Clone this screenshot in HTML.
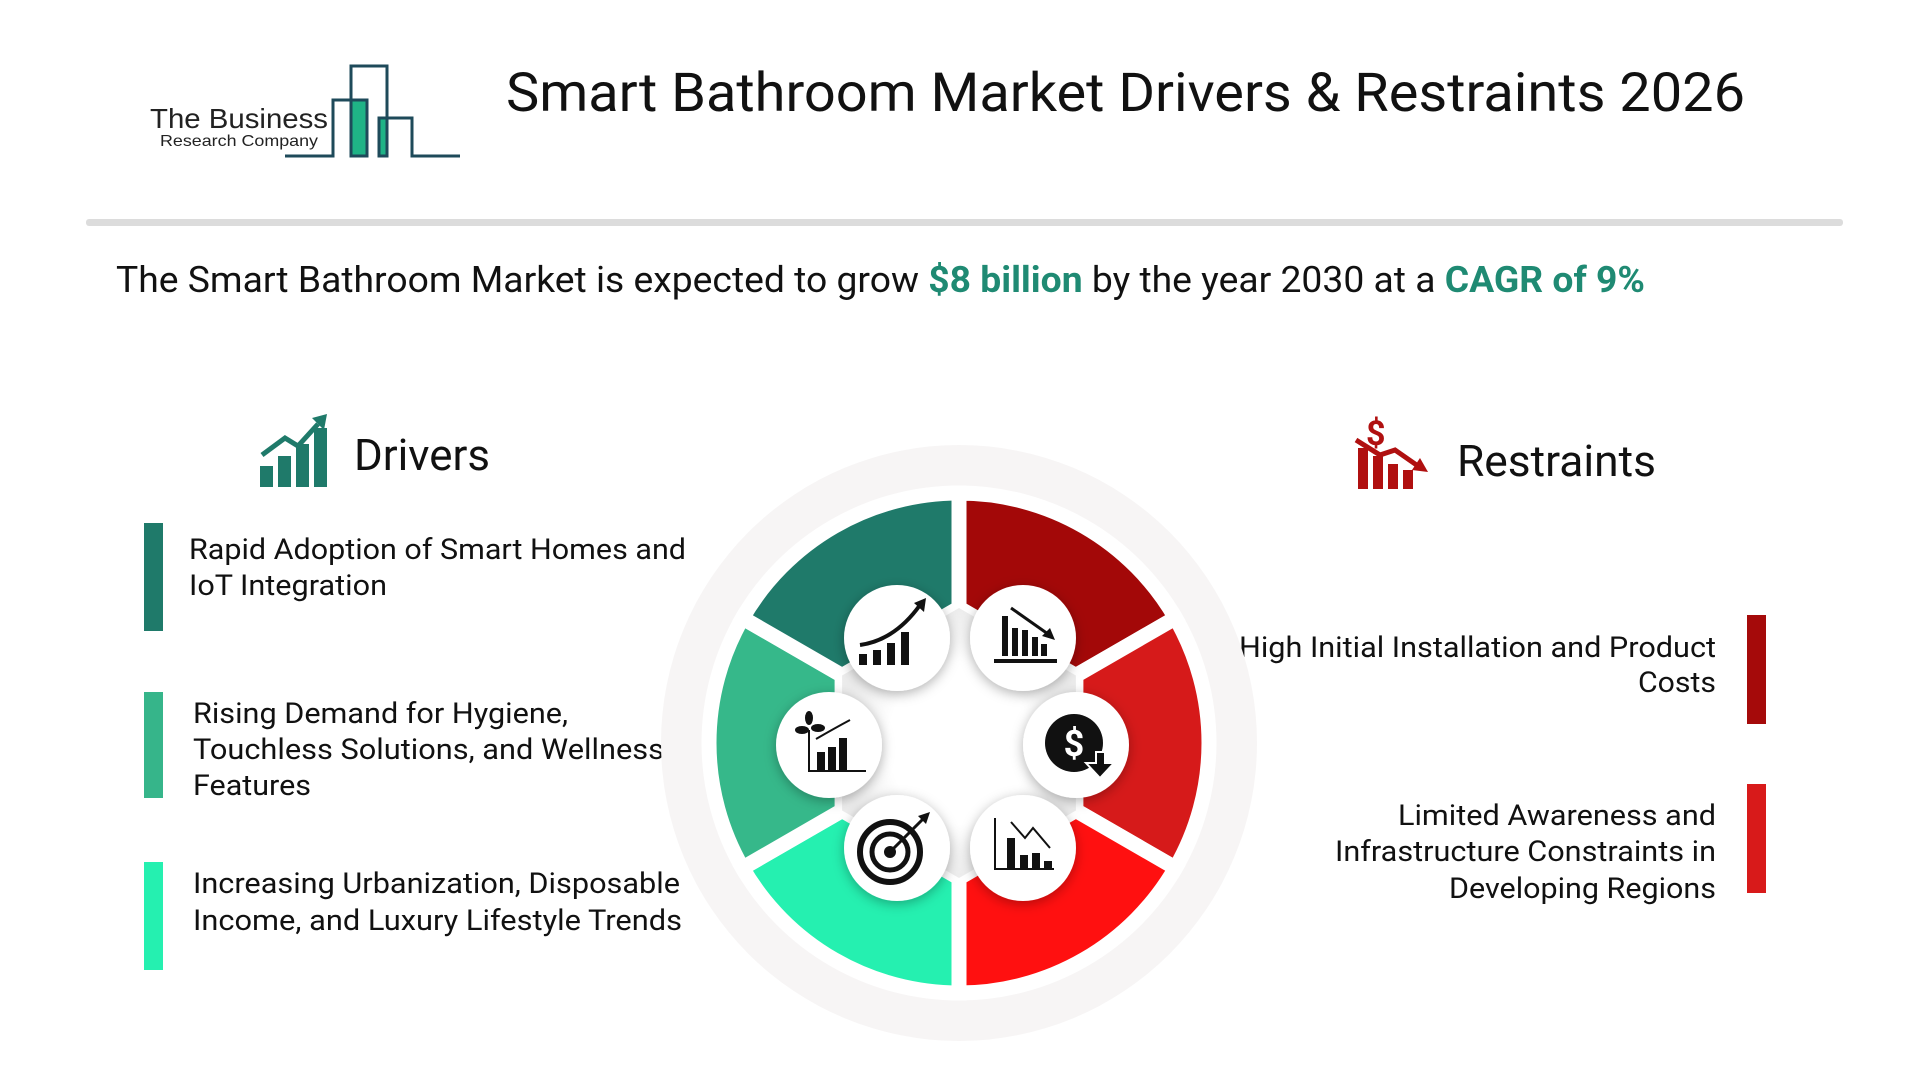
<!DOCTYPE html>
<html><head><meta charset="utf-8"><style>
html,body{margin:0;padding:0;background:#fff;}
svg{display:block;font-family:"Roboto","Liberation Sans",sans-serif;}
</style></head><body>
<svg width="1920" height="1080" viewBox="0 0 1920 1080" xmlns="http://www.w3.org/2000/svg">
<defs>
<filter id="sh" x="-30%" y="-30%" width="160%" height="160%"><feDropShadow dx="0" dy="3" stdDeviation="6" flood-color="#000" flood-opacity="0.3"/></filter>
<radialGradient id="cg"><stop offset="0.6" stop-color="#fff"/><stop offset="1" stop-color="#ececec"/></radialGradient>
</defs>
<!-- logo -->
<text x="150" y="128" font-size="28" fill="#222" textLength="178" lengthAdjust="spacingAndGlyphs" font-family="Liberation Sans">The Business</text>
<text x="160" y="146" font-size="16" fill="#222" textLength="158" lengthAdjust="spacingAndGlyphs" font-family="Liberation Sans">Research Company</text>
<rect x="351" y="100" width="16" height="56" fill="#1fb386" stroke="#1e4a5a" stroke-width="3"/>
<rect x="379" y="118" width="8" height="38" fill="#1fb386" stroke="#1e4a5a" stroke-width="3"/>
<polyline points="285,156 333,156 333,100 351,100 351,66 387,66 387,156 379,156 379,118 412,118 412,156 460,156" fill="none" stroke="#1e4a5a" stroke-width="3"/>
<!-- title -->
<text x="506" y="111" font-size="54" fill="#111" textLength="1239" lengthAdjust="spacingAndGlyphs">Smart Bathroom Market Drivers &amp; Restraints 2026</text>
<rect x="86" y="219" width="1757" height="7" rx="3" fill="#dcdcdc"/>
<text x="116" y="292" font-size="36" fill="#111" textLength="1529" lengthAdjust="spacingAndGlyphs">The Smart Bathroom Market is expected to grow <tspan fill="#1f8a73" font-weight="bold">$8 billion</tspan> by the year 2030 at a <tspan fill="#1f8a73" font-weight="bold">CAGR of 9%</tspan></text>
<!-- drivers heading -->
<g fill="#1f7a6a">
<rect x="260" y="466" width="13" height="21"/><rect x="278" y="456" width="13" height="31"/><rect x="296" y="444" width="13" height="43"/><rect x="314" y="428" width="13" height="59"/>
<polyline points="262,455 285,438 298,446 318,424" fill="none" stroke="#1f7a6a" stroke-width="5"/>
<polygon points="312,418 327,414 324,430"/>
</g>
<text x="354" y="470" font-size="44" fill="#111" textLength="136" lengthAdjust="spacingAndGlyphs">Drivers</text>
<!-- restraints heading -->
<g fill="#b01010">
<text x="1366" y="445" font-size="34" font-weight="bold" fill="#b01010">$</text>
<rect x="1358" y="448" width="10" height="41"/><rect x="1373" y="456" width="10" height="33"/><rect x="1388" y="464" width="10" height="25"/><rect x="1403" y="470" width="10" height="19"/>
<polyline points="1356,440 1380,455 1395,450 1418,466" fill="none" stroke="#b01010" stroke-width="5"/>
<polygon points="1412,470 1428,472 1420,458"/>
</g>
<text x="1457" y="476" font-size="44" fill="#111" textLength="199" lengthAdjust="spacingAndGlyphs">Restraints</text>
<!-- left items -->
<rect x="144" y="523" width="19" height="108" fill="#1f7a6a"/>
<rect x="144" y="692" width="19" height="106" fill="#36b58a"/>
<rect x="144" y="862" width="19" height="108" fill="#25f0b0"/>
<g font-size="29" fill="#111">
<text x="189" y="559" textLength="497" lengthAdjust="spacingAndGlyphs">Rapid Adoption of Smart Homes and</text>
<text x="189" y="595" textLength="198" lengthAdjust="spacingAndGlyphs">IoT Integration</text>
<text x="193" y="723" textLength="375" lengthAdjust="spacingAndGlyphs">Rising Demand for Hygiene,</text>
<text x="193" y="759" textLength="471" lengthAdjust="spacingAndGlyphs">Touchless Solutions, and Wellness</text>
<text x="193" y="795" textLength="118" lengthAdjust="spacingAndGlyphs">Features</text>
<text x="193" y="893" textLength="487" lengthAdjust="spacingAndGlyphs">Increasing Urbanization, Disposable</text>
<text x="193" y="930" textLength="489" lengthAdjust="spacingAndGlyphs">Income, and Luxury Lifestyle Trends</text>
<text x="1239" y="657" textLength="477" lengthAdjust="spacingAndGlyphs">High Initial Installation and Product</text>
<text x="1638" y="692" textLength="78" lengthAdjust="spacingAndGlyphs">Costs</text>
<text x="1398" y="825" textLength="318" lengthAdjust="spacingAndGlyphs">Limited Awareness and</text>
<text x="1335" y="861" textLength="381" lengthAdjust="spacingAndGlyphs">Infrastructure Constraints in</text>
<text x="1449" y="898" textLength="267" lengthAdjust="spacingAndGlyphs">Developing Regions</text>
</g>
<rect x="1747" y="615" width="19" height="109" fill="#a50a0a"/>
<rect x="1747" y="784" width="19" height="109" fill="#d81a1a"/>
<!-- circle -->
<circle cx="959" cy="743" r="298" fill="#f7f5f5"/>
<g stroke="#fff" stroke-width="15" stroke-linejoin="miter">
<path d="M959,493 A250,250 0 0 1 1175.5,618 L1075.9,675.5 L959,608 Z" fill="#a30808"/>
<path d="M1175.5,618 A250,250 0 0 1 1175.5,868 L1075.9,810.5 L1075.9,675.5 Z" fill="#d61a1a"/>
<path d="M1175.5,868 A250,250 0 0 1 959,993 L959,878 L1075.9,810.5 Z" fill="#ff1010"/>
<path d="M959,993 A250,250 0 0 1 742.5,868 L842.1,810.5 L959,878 Z" fill="#25f0b0"/>
<path d="M742.5,868 A250,250 0 0 1 742.5,618 L842.1,675.5 L842.1,810.5 Z" fill="#36b88a"/>
<path d="M742.5,618 A250,250 0 0 1 959,493 L959,608 L842.1,675.5 Z" fill="#1f7a6a"/>
</g>
<polygon points="959,608 1075.9,675.5 1075.9,810.5 959,878 842.1,810.5 842.1,675.5" fill="url(#cg)"/>
<g filter="url(#sh)" fill="#fff">
<circle cx="897" cy="638" r="53"/><circle cx="1023" cy="638" r="53"/>
<circle cx="829" cy="745" r="53"/><circle cx="1076" cy="745" r="53"/>
<circle cx="897" cy="848" r="53"/><circle cx="1023" cy="848" r="53"/>
</g>
<!-- icons -->
<g fill="#111" stroke="#111">
<g stroke="none"><rect x="859" y="654" width="8" height="11"/><rect x="873" y="650" width="8" height="15"/><rect x="887" y="643" width="8" height="22"/><rect x="901" y="632" width="8" height="33"/></g>
<path d="M860,645 Q895,640 920,605" fill="none" stroke-width="4"/><polygon points="914,603 926,598 924,612" stroke="none"/>
<g stroke="none"><rect x="1002" y="616" width="6" height="40"/><rect x="1012" y="628" width="6" height="28"/><rect x="1022" y="630" width="6" height="26"/><rect x="1032" y="637" width="6" height="19"/><rect x="1041" y="644" width="6" height="12"/><rect x="994" y="659" width="63" height="4"/></g>
<line x1="1011" y1="608" x2="1048" y2="634" stroke-width="3"/><polygon points="1042,636 1055,640 1050,628" stroke="none"/>
<g stroke="none"><rect x="817" y="752" width="8" height="18"/><rect x="828" y="747" width="8" height="23"/><rect x="839" y="738" width="8" height="32"/><rect x="808" y="770" width="58" height="2"/><rect x="808" y="730" width="2" height="40"/></g>
<path d="M816,739 Q835,728 850,720" fill="none" stroke-width="2"/>
<ellipse cx="802" cy="730" rx="7" ry="4" stroke="none"/><ellipse cx="818" cy="728" rx="7" ry="4" stroke="none"/><ellipse cx="809" cy="718" rx="4" ry="7" stroke="none"/>
<circle cx="1074" cy="743" r="29" stroke="none"/><text x="1074" y="756" font-size="36" font-weight="bold" fill="#fff" stroke="none" text-anchor="middle">$</text>
<polygon points="1096,752 1105,752 1105,763 1114,763 1100,778 1086,763 1096,763" stroke="#fff" stroke-width="2"/>
<circle cx="890" cy="852" r="30" fill="none" stroke-width="6"/><circle cx="890" cy="852" r="18" fill="none" stroke-width="5"/><circle cx="890" cy="852" r="6" stroke="none"/>
<line x1="890" y1="852" x2="925" y2="817" stroke-width="3"/><polygon points="918,816 930,812 926,824" stroke="none"/>
<g stroke="none"><rect x="994" y="818" width="2" height="52"/><rect x="994" y="868" width="60" height="2"/><rect x="1007" y="838" width="8" height="30"/><rect x="1020" y="855" width="8" height="13"/><rect x="1032" y="853" width="8" height="15"/><rect x="1044" y="861" width="8" height="7"/></g>
<polyline points="1011,822 1025,838 1033,828 1050,848" fill="none" stroke-width="2"/>
</g>
</svg>
</body></html>
